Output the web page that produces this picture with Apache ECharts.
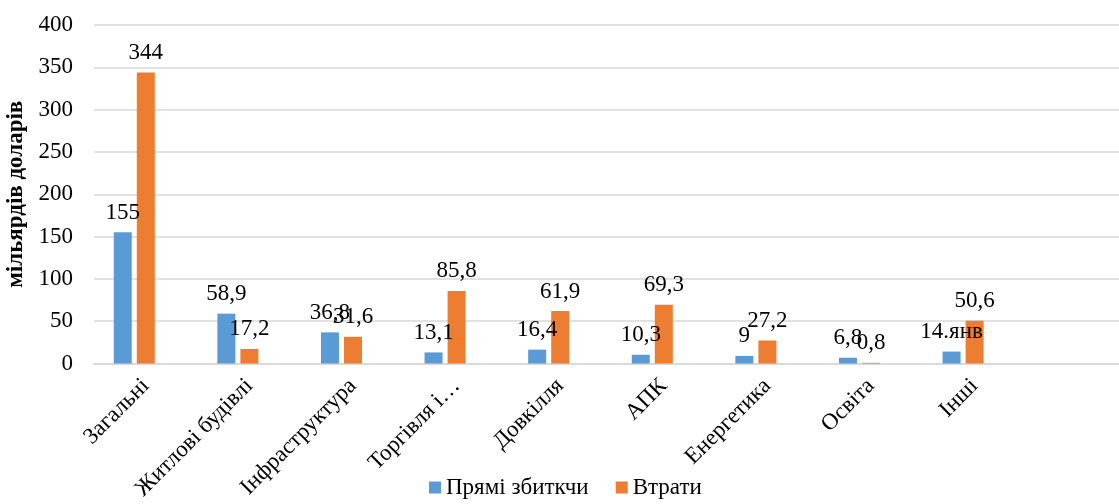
<!DOCTYPE html>
<html>
<head>
<meta charset="utf-8">
<script src="https://cdn.jsdelivr.net/npm/echarts@6/dist/echarts.min.js"></script>
<style>
html,body{margin:0;padding:0;background:#fff;}
#chart{width:1119px;height:504px;}
</style>
</head>
<body>
<div id="chart"></div>
<script>
const categories = ['Загальні','Житлові будівлі','Інфраструктура','Торгівля і…','Довкілля','АПК','Енергетика','Освіта','Інші'];
const directValues = [155, 58.9, 36.8, 13.1, 16.4, 10.3, 9, 6.8, 14.1];
const directLabels = ['155','58,9','36,8','13,1','16,4','10,3','9','6,8','14.янв'];
const lossValues = [344, 17.2, 31.6, 85.8, 61.9, 69.3, 27.2, 0.8, 50.6];
const lossLabels = ['344','17,2','31,6','85,8','61,9','69,3','27,2','0,8','50,6'];
const placeholderValues = [0, 0, 0, 0, 0, 0, 0, 0, 0];
const yTicks = [0, 50, 100, 150, 200, 250, 300, 350, 400];

const FONT = '"Liberation Serif", "Times New Roman", serif';
const chart = echarts.init(document.getElementById('chart'), null, {renderer:'canvas'});
const labelStyle = {
  show: true, position: 'top', distance: 8,
  fontFamily: FONT, fontSize: 23, color: '#000'
};
chart.setOption({
  animation: false,
  grid: {left: 94, right: -11, top: 25, bottom: 140.5, containLabel: false, outerBoundsMode: 'none'},
  legend: {
    data: ['Прямі збиткчи', 'Втрати'],
    left: 424, top: 471,
    icon: 'rect', itemWidth: 12, itemHeight: 12, itemGap: 27,
    textStyle: {fontFamily: FONT, fontSize: 23, color: '#000'}
  },
  xAxis: {
    type: 'category',
    data: categories,
    max: categories.length,
    axisLine: {show: true, lineStyle: {color: '#D9D9D9', width: 2}},
    axisTick: {show: false},
    axisLabel: {rotate: 45, margin: 19, interval: 0, fontFamily: FONT, fontSize: 23, color: '#000'}
  },
  yAxis: {
    type: 'value',
    min: yTicks[0], max: yTicks[yTicks.length-1], interval: 50,
    name: 'мільярдів доларів',
    nameLocation: 'middle', nameRotate: 90, nameGap: 64,
    nameTextStyle: {fontFamily: FONT, fontSize: 23, fontWeight: 'bold', color: '#000'},
    axisLine: {show: false}, axisTick: {show: false},
    axisLabel: {margin: 21, fontFamily: FONT, fontSize: 23, color: '#000'},
    splitLine: {lineStyle: {color: '#D9D9D9', width: 1.5}}
  },
  series: [
    {
      name: 'Прямі збиткчи', type: 'bar', data: directValues,
      barWidth: 18, barGap: '28%',
      itemStyle: {color: '#5B9BD5'},
      label: Object.assign({}, labelStyle, {formatter: p => directLabels[p.dataIndex]})
    },
    {
      name: 'Втрати', type: 'bar', data: lossValues,
      barWidth: 18, barGap: '28%',
      itemStyle: {color: '#ED7D31'},
      label: Object.assign({}, labelStyle, {formatter: p => lossLabels[p.dataIndex]})
    },
    {
      name: 'placeholder', type: 'bar', data: placeholderValues,
      barWidth: 18, barGap: '28%', silent: true,
      itemStyle: {color: 'rgba(0,0,0,0)'},
      label: {show: false}
    }
  ]
});
</script>
</body>
</html>
